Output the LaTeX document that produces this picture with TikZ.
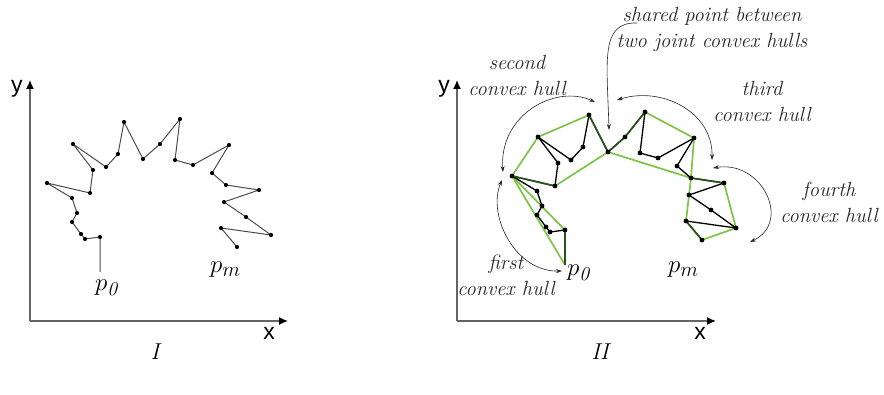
\documentclass[tikz,border=0pt]{standalone}
\usepackage{fontspec}
\newfontfamily\axfont{Liberation Sans}
\usetikzlibrary{arrows.meta}
\definecolor{hullgreen}{RGB}{125,196,70}
\definecolor{darkhull}{RGB}{40,85,30}
\definecolor{axisgray}{RGB}{100,100,100}
\tikzset{
  axisline/.style={axisgray, line width=1.4pt, -{Latex[length=9pt,width=8pt,fill=black,color=black]}},
  axislabel/.style={font=\axfont\fontsize{23}{23}\selectfont, inner sep=0pt},
  polyI/.style={black!70, line width=1pt, line join=round},
  polyII/.style={black, line width=1.3pt, line join=round},
  hulledge/.style={hullgreen, line width=1.7pt, line join=round},
  hulldark/.style={darkhull, line width=1.7pt, line join=round},
  hullarrow/.style={black!85, line width=0.6pt, {Stealth[length=6pt,width=4pt,inset=2pt]}-{Stealth[length=6pt,width=4pt,inset=2pt]}},
  onearrow/.style={black!85, line width=0.6pt, -{Stealth[length=6pt,width=4pt,inset=2pt]}},
  hulltext/.style={font=\itshape\fontsize{20.5}{26}\selectfont, align=center, inner sep=0pt, text=black!85},
  plabel/.style={font=\fontsize{28}{28}\selectfont, inner sep=0pt, anchor=base west},
  panellabel/.style={font=\itshape\fontsize{23}{23}\selectfont, inner sep=0pt}
}
\begin{document}
\begin{tikzpicture}[x=1pt,y=-1pt]
\useasboundingbox (0,0) rectangle (884,395);
% points
\foreach \i/\px/\py in {0/100/272, 1/100/237, 2/85/239, 3/81/234, 4/72/222, 5/77/213,
  6/72/198, 7/47/183, 8/90/193, 9/93/170, 10/73/144, 11/106/167, 12/118/154,
  13/124/122, 14/143/159, 15/160/144, 16/180/119, 17/175/160, 18/193/165,
  19/229/145, 20/212/173, 21/226/185, 22/259/190, 23/224/202, 24/246/217,
  25/271/235, 26/221/228, 27/237/247}{
  \coordinate (a\i) at (\px,\py);
  \coordinate (b\i) at (\px+465,\py-7);
}
% ---------- panel I ----------
\coordinate (oI) at (30,321);
\coordinate (yI) at (30,80);
\coordinate (xI) at (288,321);
\draw[axisline] (oI) -- (yI);
\draw[axisline] (oI) -- (xI);
\node[axislabel] (ylabI) at (17,89) {y};
\node[axislabel] (xlabI) at (269,333) {x};
\draw[polyI] (a0) \foreach \i in {1,...,27}{ -- (a\i) };
\foreach \i in {1,...,27} \fill[black] (a\i) circle (2.1);
\node[plabel] (p0I) at (95,291) {$p_{\mathit{0}}$};
\node[plabel] (pmI) at (210,273) {$p_m$};
\node[panellabel] (labI) at (155,352) {I};
% ---------- panel II ----------
\coordinate (oII) at (457,321);
\coordinate (yII) at (457,80);
\coordinate (xII) at (716,321);
\draw[axisline] (oII) -- (yII);
\draw[axisline] (oII) -- (xII);
\node[axislabel] (ylabII) at (444,89) {y};
\node[axislabel] (xlabII) at (700,333) {x};
% hulls (light green edges)
\draw[hulledge] (b7) -- (b0);
\draw[hulledge] (b7) -- (b1);
\draw[hulledge] (b7) -- (b10) -- (b13);
\draw[hulledge] (b14) -- (b8);
\draw[hulledge] (b16) -- (b19) -- (b21) -- (b14);
\draw[hulledge] (b22) -- (b25) -- (b27);
\draw[hulledge] (b26) -- (b23) -- (b21);
% polyline
\draw[polyII] (b0) \foreach \i in {1,...,27}{ -- (b\i) };
% hull edges shared with the polyline (dark green)
\draw[hulldark] (b1) -- (b0);
\draw[hulldark] (b7) -- (b8);
\draw[hulldark] (b13) -- (b14);
\draw[hulldark] (b14) -- (b15) -- (b16);
\draw[hulldark] (b21) -- (b22);
\draw[hulldark] (b27) -- (b26);
\foreach \i in {1,...,27} \fill[black] (b\i) circle (2.4);
\node[plabel] (p0II) at (567,276) {$p_{\mathit{0}}$};
\node[plabel] (pmII) at (668,273) {$p_m$};
% hull labels
\node[hulltext] (t1) at (506,275) {first\\convex hull};
\node[hulltext] (t2) at (517,75) {second\\convex hull};
\node[hulltext] (t3) at (762,101) {third\\convex hull};
\node[hulltext] (t4) at (829,202) {fourth\\convex hull};
\node[hulltext] (ts) at (712,29) {shared point between\\two joint convex hulls};
% curved arrows
\coordinate (f1) at (502,180); \coordinate (f2) at (562,271);
\draw[hullarrow] (f1) .. controls (487,215) and (515,272) .. (f2);
\coordinate (s1) at (503,172); \coordinate (s2) at (595,102);
\draw[hullarrow] (s1) .. controls (499,115) and (555,84) .. (s2);
\coordinate (h1) at (617,100); \coordinate (h2) at (712,160);
\draw[hullarrow] (h1) .. controls (662,86) and (713,112) .. (h2);
\coordinate (g1) at (713,168); \coordinate (g2) at (750,242);
\draw[hullarrow] (g1) .. controls (762,160) and (792,222) .. (g2);
\coordinate (sp1) at (637,23); \coordinate (sp2) at (609,130);
\draw[onearrow] (sp1) .. controls (600,22) and (607,60) .. (sp2);
\node[panellabel] (labII) at (600,352) {II};
\end{tikzpicture}
\end{document}
